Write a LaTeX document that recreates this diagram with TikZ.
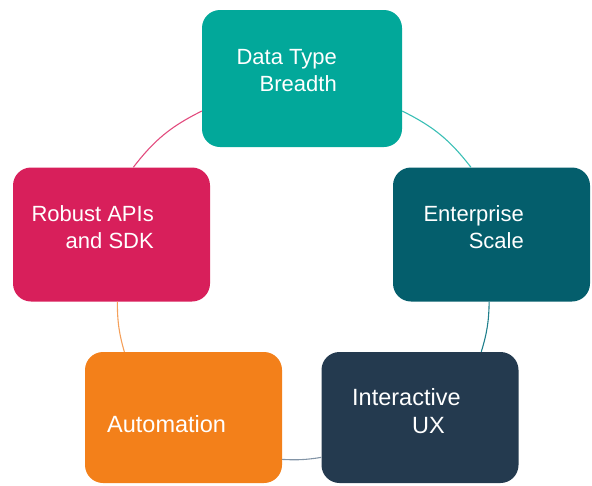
\documentclass[tikz,border=0pt]{standalone}
\usepackage{fontspec}
\setmainfont{Liberation Sans}
\usetikzlibrary{positioning}
\definecolor{dtbfill}{HTML}{02A89A}
\definecolor{entfill}{HTML}{045E6C}
\definecolor{iuxfill}{HTML}{243A4F}
\definecolor{autfill}{HTML}{F3801A}
\definecolor{apifill}{HTML}{D81F5B}
\definecolor{dtbline}{HTML}{3ABFB5}
\definecolor{entline}{HTML}{1F7F8C}
\definecolor{iuxline}{HTML}{8294A6}
\definecolor{autline}{HTML}{F5A05A}
\definecolor{apiline}{HTML}{E24B7E}

\begin{document}
\begin{tikzpicture}[x=1pt,y=1pt,
    box/.style={rectangle,rounded corners=18pt,minimum width=197pt,minimum height=134pt,inner sep=0pt},
    lbl/.style={text=white,font=\fontsize{22}{27}\selectfont,inner sep=0pt},
    biglbl/.style={lbl,font=\fontsize{23.5}{28}\selectfont},
    link/.style={line width=1.1pt}]
  \useasboundingbox (0,0) rectangle (592,-485);
  % the five boxes
  \node[box,fill=dtbfill,minimum width=200pt,minimum height=137pt] (dtb) at (302,-78.5) {};
  \node[box,fill=entfill] (ent) at (491.5,-234.5) {};
  \node[box,fill=iuxfill,minimum height=131pt] (iux) at (420,-417.5) {};
  \node[box,fill=autfill,minimum height=131pt] (aut) at (183.5,-417.5) {};
  \node[box,fill=apifill] (api) at (111.5,-234.5) {};
  % texts
  \node[lbl,align=right,anchor=east] (dtbtxt) at (337,-71) {Data Type\\Breadth};
  \node[lbl,align=right,anchor=east] (enttxt) at (524,-227) {Enterprise\\Scale};
  \node[biglbl,align=left,anchor=west] (iuxtxt) at (352,-411) {Interactive\\\hspace*{60pt}UX};
  \node[biglbl,anchor=base west] (auttxt) at (107,-432) {Automation};
  \node[lbl,align=right,anchor=east] (apitxt) at (154,-227) {Robust APIs\\and SDK};
  % the ring between them
  \draw[link,dtbline] (dtb.342.5) to[bend left=13] (ent.107);
  \draw[link,entline] (ent.268) to[bend left=8] (iux.47.5);
  \draw[link,iuxline] (iux.202.5) to[bend left=6] (aut.337.5);
  \draw[link,autline] (aut.132) to[bend left=8] (api.275);
  \draw[link,apiline] (api.72) to[bend left=13] (dtb.198.5);
\end{tikzpicture}
\end{document}
